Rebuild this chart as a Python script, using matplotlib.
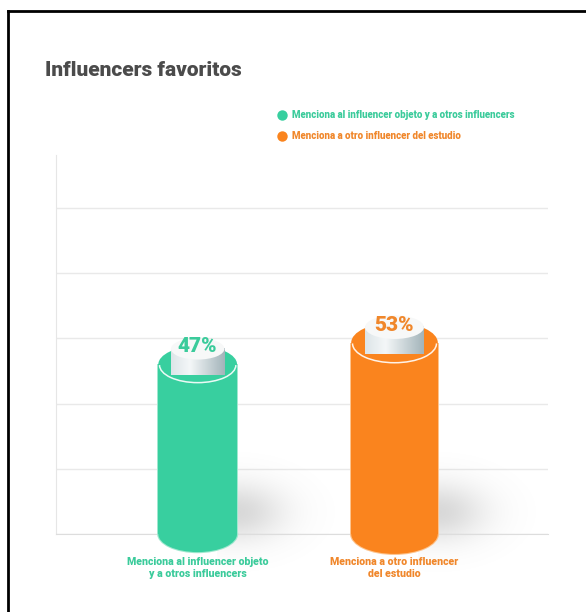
import numpy as np
import matplotlib
matplotlib.use("Agg")
import matplotlib.pyplot as plt
from matplotlib import font_manager
from matplotlib.patches import Rectangle, Ellipse, Arc, PathPatch
from matplotlib.path import Path
from matplotlib.lines import Line2D
from matplotlib.colors import to_rgb

# ---- data -------------------------------------------------------------
title = "Influencers favoritos"
categories = ["Menciona al influencer objeto\ny a otros influencers",
              "Menciona a otro influencer\ndel estudio"]
legend_labels = ["Menciona al influencer objeto y a otros influencers",
                 "Menciona a otro influencer del estudio"]
values = [47, 53]
value_labels = ["47%", "53%"]

# ---- style ------------------------------------------------------------
body_colors = ["#38cf9f", "#fa841e"]
edge_colors = ["#9fe8cf", "#fdc48e"]
text_colors = ["#3bcb9b", "#f0872b"]
bar_widths = [0.40, 0.44]


def pick_font(candidates):
    names = {f.name for f in font_manager.fontManager.ttflist}
    for c in candidates:
        if c in names:
            return c
    return "DejaVu Sans"


COND = pick_font(["Liberation Sans Narrow", "DejaVu Sans Condensed", "Roboto"])
FAM = [COND, "DejaVu Sans"]

W, H = 586, 612
fig = plt.figure(figsize=(W / 100, H / 100), dpi=100)
fig.patch.set_facecolor("white")

ax_left, ax_right, ax_top, ax_bot = 56, 548, 155, 534
ax = fig.add_axes([ax_left / W, 1 - ax_bot / H,
                   (ax_right - ax_left) / W, (ax_bot - ax_top) / H])
XLIM = (-0.72, 1.78)
YLIM = (0, 105)
XPX = (ax_right - ax_left) / (XLIM[1] - XLIM[0])   # pixels per x unit
YPX = (ax_bot - ax_top) / (YLIM[1] - YLIM[0])       # pixels per y unit

# decorative horizontal grid
grid_step = 18.06
ax.set_yticks(np.arange(0, 5 * grid_step + 1, grid_step))
ax.set_xticks([])
ax.yaxis.grid(True, color="#e9e9e9", lw=1.0)
ax.set_axisbelow(True)
ax.tick_params(length=0, labelleft=False)
for s in ("top", "right"):
    ax.spines[s].set_visible(False)
ax.spines["left"].set_color("#e6e6e6")
ax.spines["bottom"].set_color("#dddddd")
ax.set_facecolor("none")


def half_h(w):
    """Half height (data units) of the ellipse of a cylinder w wide."""
    return 0.23 * w * XPX / YPX


def shadow(xc, w):
    x0, x1 = xc + w / 2 - 0.1, xc + w / 2 + 0.6
    y0, y1 = -22, 30
    xs = np.linspace(x0, x1, 220)
    ys = np.linspace(y0, y1, 220)
    X, Y = np.meshgrid(xs, ys)
    a = 0.30 * np.exp(-((X - (xc + w / 2)) / 0.24) ** 2) \
        * np.exp(-((Y - 6.0) / 8.0) ** 2)
    img = np.zeros((220, 220, 4))
    img[..., :3] = 0.5
    img[..., 3] = a
    ax.imshow(img, extent=(x0, x1, y0, y1), origin="lower", aspect="auto",
              zorder=1, interpolation="bilinear", clip_on=False)


def cap_side(xc, base, wc, hc, rise):
    t = np.linspace(np.pi, 2 * np.pi, 60)
    arc_x = xc + wc / 2 * np.cos(t)
    arc_y = base + hc * np.sin(t)
    verts = [(xc - wc / 2, base + rise)] + list(zip(arc_x, arc_y)) + \
        [(xc + wc / 2, base + rise), (xc - wc / 2, base + rise)]
    codes = [Path.MOVETO] + [Path.LINETO] * (len(verts) - 2) + [Path.CLOSEPOLY]
    patch = PathPatch(Path(verts, codes), fc="none", ec="none", zorder=5)
    ax.add_patch(patch)
    stops = [(0.0, "#dde5e8"), (0.35, "#f4f7f8"), (1.0, "#a3b4ba")]
    pos = np.linspace(0, 1, 120)
    cols = np.array([to_rgb(c) for _, c in stops])
    sp = [s for s, _ in stops]
    grad = np.stack([np.interp(pos, sp, cols[:, k]) for k in range(3)], axis=-1)
    grad = np.repeat(grad[None, :, :], 4, axis=0)
    im = ax.imshow(grad, extent=(xc - wc / 2, xc + wc / 2, base - hc, base + rise),
                   origin="lower", aspect="auto", zorder=5, clip_on=False)
    im.set_clip_path(patch)


for i, (v, lab, bc, ec, tc, w) in enumerate(zip(values, value_labels,
                                                 body_colors, edge_colors,
                                                 text_colors, bar_widths)):
    h = half_h(w)
    shadow(i, w)
    # cylinder body: light outline drawn first, fill on top
    ax.add_patch(Ellipse((i, 0), w + 0.012, 2 * h + 0.6, fc=ec, ec="none",
                         zorder=2.9, clip_on=False))
    ax.add_patch(Rectangle((i - w / 2 - 0.006, 0), w + 0.012, v, fc=ec,
                           ec="none", zorder=2.9, clip_on=False))
    ax.add_patch(Rectangle((i - w / 2, 0), w, v, fc=bc, ec="none",
                           zorder=3, clip_on=False))
    ax.add_patch(Ellipse((i, 0), w, 2 * h, fc=bc, ec="none",
                         zorder=3, clip_on=False))
    ax.add_patch(Ellipse((i, v), w, 2 * h, fc=bc, ec="none",
                         zorder=3, clip_on=False))
    ax.add_patch(Arc((i, v - 0.2), w * 0.97, 2 * h * 0.97, theta1=180,
                     theta2=360, color="white", lw=1.1, alpha=0.9, zorder=4))
    # white cap carrying the label
    wc = w * 0.68
    hc = 0.2 * wc * XPX / YPX
    rise = 4.3
    cap_side(i, v, wc, hc, rise)
    ax.add_patch(Ellipse((i, v + rise), wc, 2 * hc, fc="#f7f8f8",
                         ec="none", zorder=6, clip_on=False))
    ax.text(i, v + rise + 0.6, lab, ha="center", va="center", fontsize=15,
            fontweight="heavy", color=tc, family=FAM, zorder=7)
    # category label below the cylinder
    ax.text(i, -6.3, categories[i], ha="center", va="top", fontsize=7.6,
            fontweight="heavy", color=tc, family=FAM,
            linespacing=1.25, clip_on=False)

ax.set_xlim(*XLIM)
ax.set_ylim(*YLIM)

# title
fig.text(45 / W, 1 - 70 / H, title, fontsize=15, fontweight="heavy",
         color="#4b4b4b", va="center", family=FAM)

# legend
for k, (lab, mc, tc) in enumerate(zip(legend_labels, body_colors, text_colors)):
    yk = 1 - (115 + 21 * k) / H
    fig.add_artist(Line2D([282 / W], [yk], marker="o", ms=7.5, color=mc,
                          mec="none", transform=fig.transFigure))
    fig.text(292 / W, yk, lab, fontsize=7, fontweight="heavy", color=tc,
             va="center", family=FAM)

# frame lines
fig.add_artist(Line2D([8 / W, 8 / W], [0, 1 - 11 / H], color="black", lw=2,
                      transform=fig.transFigure))
fig.add_artist(Line2D([8 / W, 1], [1 - 11 / H, 1 - 11 / H], color="black", lw=2,
                      transform=fig.transFigure))

fig.savefig("out.png", dpi=100, facecolor="white")
